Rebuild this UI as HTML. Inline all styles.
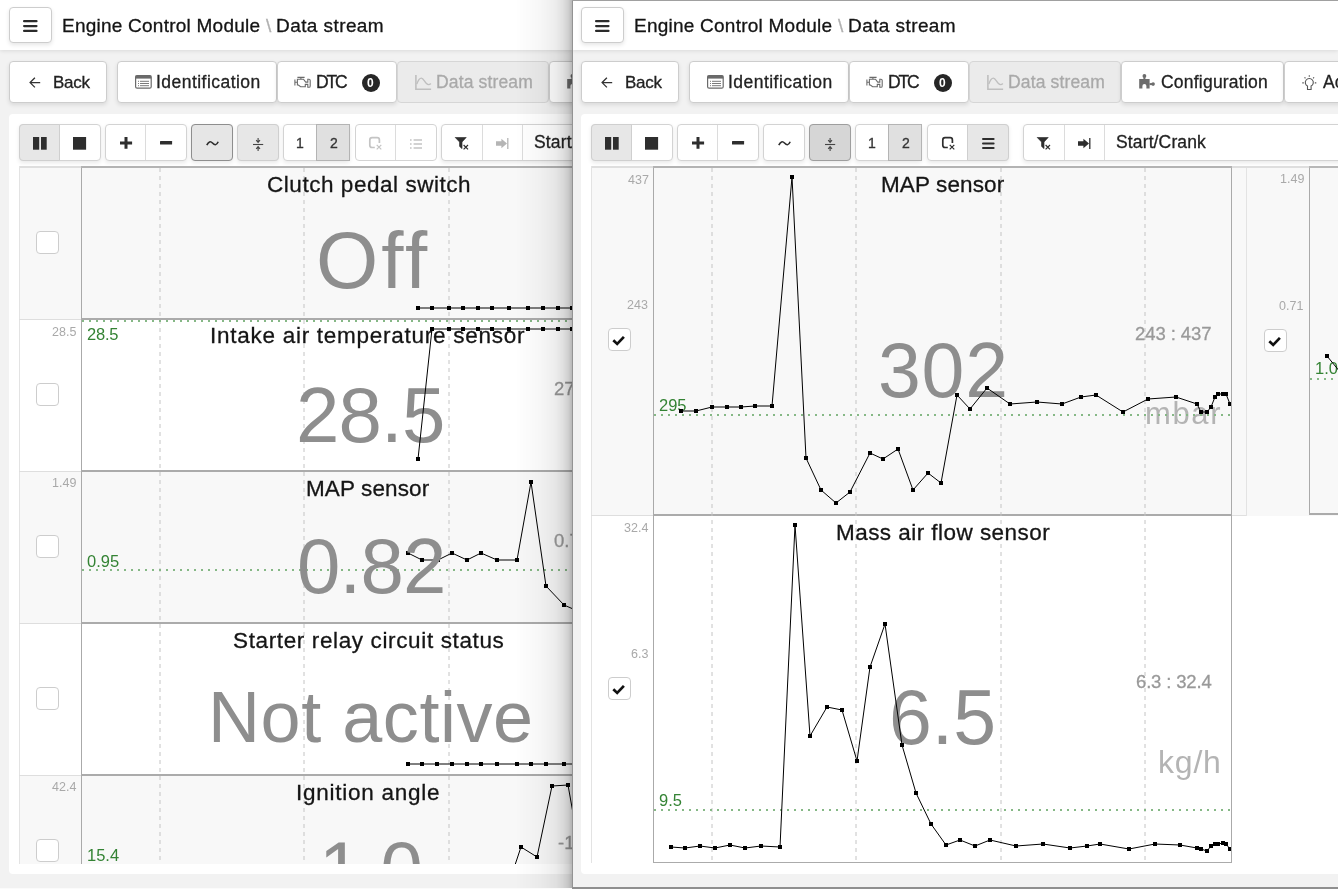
<!DOCTYPE html><html><head><meta charset="utf-8"><style>
html,body{margin:0;padding:0}
body{width:1338px;height:889px;overflow:hidden;position:relative;background:#f2f2f2;font-family:"Liberation Sans", sans-serif}
div{will-change:transform}
.t{-webkit-text-stroke:0.3px currentColor}
</style></head><body>
<div style="position:absolute;left:0px;top:0;width:572px;height:889px;overflow:hidden;background:#f2f2f2">
<div style="position:absolute;left:0;top:0;width:100%;height:50px;background:#fff;box-shadow:0 1px 4px rgba(0,0,0,.10)"></div>
<div style="position:absolute;left:9.00px;top:7.00px;width:43.00px;height:36.00px;box-sizing:border-box;border:1px solid #cdcdcd;border-radius:4px;background:#fff;box-shadow:0 2px 4px rgba(0,0,0,.10);"></div>
<svg width="15" height="13" viewBox="0 0 15 13" style="position:absolute;left:23.00px;top:19.60px;overflow:visible;"><rect x="0" y="0" width="14.6" height="2.3" rx="1.1" fill="#2b2b2b"/><rect x="0" y="4.9" width="14.6" height="2.3" rx="1.1" fill="#2b2b2b"/><rect x="0" y="9.7" width="14.6" height="2.3" rx="1.1" fill="#2b2b2b"/></svg>
<div class="t" style="position:absolute;left:61.98px;top:15.92px;font-size:19px;line-height:19px;white-space:nowrap;color:#141414;letter-spacing:0.237px;">Engine Control Module</div>
<div class="t" style="position:absolute;left:265.70px;top:15.92px;font-size:19px;line-height:19px;white-space:nowrap;color:#b0b0b0;">\</div>
<div class="t" style="position:absolute;left:276.48px;top:15.92px;font-size:19px;line-height:19px;white-space:nowrap;color:#141414;letter-spacing:0.420px;">Data stream</div>
<div style="position:absolute;left:9.00px;top:61.00px;width:98.00px;height:42.00px;box-sizing:border-box;border:1px solid #cdcdcd;border-radius:4px;background:#fff;box-shadow:0 2px 4px rgba(0,0,0,.10);"></div>
<svg width="12" height="12" viewBox="0 0 12 12" style="position:absolute;left:29.00px;top:76.60px;overflow:visible;"><path d="M11.2 5.6H1.2M5.9 0.8L1.1 5.6L5.9 10.4" stroke="#333" stroke-width="1.3" fill="none"/></svg>
<div class="t" style="position:absolute;left:53.24px;top:73.61px;font-size:17px;line-height:17px;white-space:nowrap;color:#222;letter-spacing:-0.288px;">Back</div>
<div style="position:absolute;left:117.00px;top:61.00px;width:160.00px;height:42.00px;box-sizing:border-box;border:1px solid #cdcdcd;border-radius:4px;background:#fff;box-shadow:0 2px 4px rgba(0,0,0,.10);"></div>
<svg width="17" height="14" viewBox="0 0 17 14" style="position:absolute;left:134.80px;top:74.90px;overflow:visible;"><rect x="0.6" y="0.6" width="15.6" height="12.6" rx="1.5" fill="#fff" stroke="#6a6a6a" stroke-width="1.2"/><rect x="0.6" y="0.6" width="15.6" height="3" fill="#6a6a6a"/><path d="M3 6.3h1M5 6.3h9M3 8.5h1M5 8.5h9M3 10.7h1M5 10.7h9" stroke="#7a7a7a" stroke-width="1"/></svg>
<div class="t" style="position:absolute;left:156.03px;top:73.99px;font-size:17.5px;line-height:17.5px;white-space:nowrap;color:#222;letter-spacing:0.465px;">Identification</div>
<div style="position:absolute;left:277.00px;top:61.00px;width:120.00px;height:42.00px;box-sizing:border-box;border:1px solid #cdcdcd;border-radius:4px;background:#fff;box-shadow:0 2px 4px rgba(0,0,0,.10);"></div>
<svg width="17" height="13" viewBox="0 0 17 13" style="position:absolute;left:294.00px;top:76.00px;overflow:visible;"><path d="M3.4 1.4H10.6M6.9 1.4V3.2M3.4 3.2H9.5L11.7 6.1H13.8V3.2H15Q16.2 3.2 16.2 4.6V9.9Q16.2 11.3 15 11.3H13.8V8.4H11.3V10.8H6.6L4.4 9H3.4ZM0.9 3.4V9.5M0.9 6.3H3.4" fill="none" stroke="#6a6a6a" stroke-width="1.1"/></svg>
<div class="t" style="position:absolute;left:315.60px;top:73.99px;font-size:17.5px;line-height:17.5px;white-space:nowrap;color:#222;letter-spacing:-2.131px;">DTC</div>
<div style="position:absolute;left:361.80px;top:73.80px;width:18.00px;height:18.00px;border-radius:9px;background:#262626"></div>
<div class="n" style="position:absolute;left:367.47px;top:77.44px;font-size:12px;line-height:12px;white-space:nowrap;color:#fff;font-weight:bold;">0</div>
<div style="position:absolute;left:397.00px;top:61.00px;width:152.00px;height:42.00px;box-sizing:border-box;border:1px solid #d6d6d6;border-radius:4px;background:#ebebeb;"></div>
<svg width="18" height="17" viewBox="0 0 18 17" style="position:absolute;left:414.00px;top:74.00px;overflow:visible;"><path d="M1.9 0.9V15.2H17.1" fill="none" stroke="#bfbfbf" stroke-width="1.6"/><path d="M2.8 10.1C4.5 5 5.5 4.1 7.4 4.1C10 4.1 11 10.6 14.6 10.6C15.6 10.6 16.3 10.1 16.8 9.5" fill="none" stroke="#bfbfbf" stroke-width="1.3"/></svg>
<div class="t" style="position:absolute;left:436.10px;top:73.99px;font-size:17.5px;line-height:17.5px;white-space:nowrap;color:#a9a9a9;letter-spacing:0.145px;">Data stream</div>
<div style="position:absolute;left:549.00px;top:61.00px;width:163.00px;height:42.00px;box-sizing:border-box;border:1px solid #cdcdcd;border-radius:4px;background:#fff;box-shadow:0 2px 4px rgba(0,0,0,.10);"></div>
<svg width="17" height="15" viewBox="0 0 17 15" style="position:absolute;left:566.00px;top:74.00px;overflow:visible;"><g fill="#6c6c6c"><path d="M1.2 4.9H11.6V14.6H8.4V12.1A2 2 0 0 0 4.4 12.1V14.6H1.2Z"/><circle cx="6.4" cy="1.9" r="1.9"/><rect x="5.4" y="2.5" width="2" height="2.6"/><circle cx="15.1" cy="10.1" r="1.8"/><rect x="11.5" y="9.1" width="2.5" height="2"/></g></svg>
<div class="t" style="position:absolute;left:589.02px;top:73.99px;font-size:17.5px;line-height:17.5px;white-space:nowrap;color:#222;letter-spacing:0.215px;">Configuration</div>
<div style="position:absolute;left:712.00px;top:61.00px;width:188.00px;height:42.00px;box-sizing:border-box;border:1px solid #cdcdcd;border-radius:4px;background:#fff;box-shadow:0 2px 4px rgba(0,0,0,.10);"></div>
<svg width="16" height="16" viewBox="0 0 16 16" style="position:absolute;left:730.00px;top:74.00px;overflow:visible;"><path d="M5.5 12.1A4 4 0 1 1 9.1 12.1V15.5H5.5Z" fill="none" stroke="#555" stroke-width="1.1"/><path d="M7.3 1.3V2.8M2.6 3.3L3.4 4.4M12 3.3L11.2 4.4M0.3 8.9H1.8M12.8 8.9H14.3" stroke="#555" stroke-width="1.1"/></svg>
<div class="t" style="position:absolute;left:751.41px;top:73.99px;font-size:17.5px;line-height:17.5px;white-space:nowrap;color:#222;">Actuator tests</div>
<div style="position:absolute;left:9.00px;top:114.00px;width:612.00px;height:760.00px;background:#fff;border-radius:4px"></div>
<div style="position:absolute;left:19.00px;top:124.00px;width:82.00px;height:37.00px;box-sizing:border-box;border:1px solid #d3d3d3;border-radius:4px;background:#fff;box-shadow:0 2px 4px rgba(0,0,0,.09);"></div><div style="position:absolute;left:19.00px;top:124.00px;width:41.00px;height:37.00px;box-sizing:border-box;border:1px solid #cfcfcf;border-radius:4px 0 0 4px;background:#e7e7e7"></div>
<svg width="14" height="13" viewBox="0 0 14 13" style="position:absolute;left:32.50px;top:137.10px;overflow:visible;"><rect x="0" y="0" width="6.2" height="12.7" fill="#2e2e2e"/><rect x="8" y="0" width="5.7" height="12.7" fill="#2e2e2e"/></svg>
<svg width="13" height="13" viewBox="0 0 13 13" style="position:absolute;left:73.10px;top:137.10px;overflow:visible;"><rect x="0" y="0" width="13.1" height="12.7" fill="#2e2e2e"/></svg>
<div style="position:absolute;left:105.00px;top:124.00px;width:82.00px;height:37.00px;box-sizing:border-box;border:1px solid #d3d3d3;border-radius:4px;background:#fff;box-shadow:0 2px 4px rgba(0,0,0,.09);"></div><div style="position:absolute;left:145.00px;top:125.00px;width:1.00px;height:35.00px;background:#dcdcdc"></div>
<svg width="12" height="12" viewBox="0 0 12 12" style="position:absolute;left:119.90px;top:137.10px;overflow:visible;"><path d="M6 0v11.7M0 5.9h12.1" stroke="#2e2e2e" stroke-width="3"/></svg>
<svg width="12" height="5" viewBox="0 0 12 5" style="position:absolute;left:160.30px;top:141.00px;overflow:visible;"><rect x="0" y="0" width="12.1" height="3.6" rx="0.5" fill="#2e2e2e"/></svg>
<div style="position:absolute;left:191.00px;top:124.00px;width:42.00px;height:37.00px;box-sizing:border-box;border:1px solid #d3d3d3;border-radius:4px;background:#fff;box-shadow:0 2px 4px rgba(0,0,0,.09);"></div><div style="position:absolute;left:191.00px;top:124.00px;width:42.00px;height:37.00px;box-sizing:border-box;border:1px solid #8e8e8e;border-radius:4px 4px 4px 4px;background:#e6e6e6"></div>
<svg width="13" height="7" viewBox="0 0 13 7" style="position:absolute;left:205.60px;top:140.30px;overflow:visible;"><path d="M0.8 5.2C2.5 1.5 4.5 0.8 6.5 3S10.5 5.8 12.2 1.8" fill="none" stroke="#2e2e2e" stroke-width="1.6"/></svg>
<div style="position:absolute;left:237.00px;top:124.00px;width:42.00px;height:37.00px;box-sizing:border-box;border:1px solid #d3d3d3;border-radius:4px;background:#fff;box-shadow:0 2px 4px rgba(0,0,0,.09);"></div><div style="position:absolute;left:237.00px;top:124.00px;width:42.00px;height:37.00px;box-sizing:border-box;border:1px solid #cfcfcf;border-radius:4px 4px 4px 4px;background:#e7e7e7"></div>
<svg width="11" height="13" viewBox="0 0 11 13" style="position:absolute;left:253.00px;top:137.70px;overflow:visible;"><path d="M0 6.5h10.2" stroke="#444" stroke-width="1.1"/><path d="M5.1 0v3.6M3.2 2.2l1.9 2.2l1.9-2.2M5.1 13v-3.6M3.2 10.8l1.9-2.2l1.9 2.2" fill="none" stroke="#444" stroke-width="1.1"/></svg>
<div style="position:absolute;left:283.00px;top:124.00px;width:67.00px;height:37.00px;box-sizing:border-box;border:1px solid #d3d3d3;border-radius:4px;background:#fff;box-shadow:0 2px 4px rgba(0,0,0,.09);"></div><div style="position:absolute;left:316.00px;top:124.00px;width:34.00px;height:37.00px;box-sizing:border-box;border:1px solid #b4b4b4;border-radius:0;background:#e0e0e0"></div>
<div class="t" style="position:absolute;left:295.94px;top:136.35px;font-size:14px;line-height:14px;white-space:nowrap;color:#333;">1</div>
<div class="t" style="position:absolute;left:329.62px;top:136.35px;font-size:14px;line-height:14px;white-space:nowrap;color:#333;">2</div>
<div style="position:absolute;left:355.00px;top:124.00px;width:82.00px;height:37.00px;box-sizing:border-box;border:1px solid #d3d3d3;border-radius:4px;background:#fff;"></div><div style="position:absolute;left:395.00px;top:125.00px;width:1.00px;height:35.00px;background:#dcdcdc"></div>
<svg width="13" height="13" viewBox="0 0 13 13" style="position:absolute;left:369.10px;top:137.40px;overflow:visible;"><path d="M10.4 5.9V3A2.3 2.3 0 0 0 8.1 0.7H3A2.3 2.3 0 0 0 0.8 3V8.2A2.3 2.3 0 0 0 3 10.5H5.8" fill="none" stroke="#c4c4c4" stroke-width="1.7"/><path d="M7.7 7.8l4.6 4.6M12.3 7.8L7.7 12.4" stroke="#c4c4c4" stroke-width="1.2"/></svg>
<svg width="12" height="10" viewBox="0 0 12 10" style="position:absolute;left:409.80px;top:138.70px;overflow:visible;"><path d="M0 1h1.6M0 5h1.6M0 9h1.6M3.6 1h8.4M3.6 5h8.4M3.6 9h8.4" stroke="#c4c4c4" stroke-width="1.5"/></svg>
<div style="position:absolute;left:441.00px;top:124.00px;width:572.00px;height:37.00px;box-sizing:border-box;border:1px solid #d3d3d3;border-radius:4px;background:#fff;box-shadow:0 2px 4px rgba(0,0,0,.09)"></div>
<div style="position:absolute;left:482.00px;top:125.00px;width:1.00px;height:35.00px;background:#dcdcdc"></div>
<div style="position:absolute;left:522.00px;top:125.00px;width:1.00px;height:35.00px;background:#dcdcdc"></div>
<svg width="14" height="14" viewBox="0 0 14 14" style="position:absolute;left:454.90px;top:136.90px;overflow:visible;"><path d="M0.2 0.4h11L7 5v6.6L4.6 9.4V5z" fill="#2e2e2e" stroke="#2e2e2e" stroke-width="0.7" stroke-linejoin="round"/><path d="M8.6 8l4.4 4.4M13 8L8.6 12.4" stroke="#2e2e2e" stroke-width="1.2"/></svg>
<svg width="13" height="12" viewBox="0 0 13 12" style="position:absolute;left:495.90px;top:137.90px;overflow:visible;"><path d="M0 3.3h5.4V0.7L11 5.5L5.4 10.3V7.8H0z" fill="#b5b5b5"/><path d="M11.8 0v11" stroke="#b5b5b5" stroke-width="1.3"/></svg>
<div class="t" style="position:absolute;left:534.01px;top:133.59px;font-size:17.5px;line-height:17.5px;white-space:nowrap;color:#222;letter-spacing:0.133px;">Start/Crank</div>
<div style="position:absolute;left:19px;top:166px;width:572px;height:697.7px;overflow:hidden">
<div style="position:absolute;left:0.00px;top:0.00px;width:572.00px;height:2.00px;background:#dedede"></div>
<div style="position:absolute;left:0.00px;top:2.00px;width:572.00px;height:152.00px;background:#f8f8f8"></div>
<div style="position:absolute;left:0.00px;top:154.00px;width:572.00px;height:152.00px;background:#fff"></div>
<div style="position:absolute;left:0.00px;top:306.00px;width:572.00px;height:152.00px;background:#f8f8f8"></div>
<div style="position:absolute;left:0.00px;top:458.00px;width:572.00px;height:152.00px;background:#fff"></div>
<div style="position:absolute;left:0.00px;top:610.00px;width:572.00px;height:152.00px;background:#f8f8f8"></div>
<div style="position:absolute;left:0.00px;top:0.00px;width:1.00px;height:697.70px;background:#e3e3e3"></div>
<div style="position:absolute;left:62.00px;top:0.00px;width:1.00px;height:697.70px;background:#aaa"></div>
<div style="position:absolute;left:62.00px;top:0.00px;width:691.00px;height:2.00px;background:#b3b3b3"></div>
<div style="position:absolute;left:0.00px;top:153.00px;width:62.00px;height:1.00px;background:#dedede"></div>
<div style="position:absolute;left:62.00px;top:152.00px;width:691.00px;height:2.00px;background:#ababab"></div>
<div style="position:absolute;left:0.00px;top:305.00px;width:62.00px;height:1.00px;background:#dedede"></div>
<div style="position:absolute;left:62.00px;top:304.00px;width:691.00px;height:2.00px;background:#ababab"></div>
<div style="position:absolute;left:0.00px;top:457.00px;width:62.00px;height:1.00px;background:#dedede"></div>
<div style="position:absolute;left:62.00px;top:456.00px;width:691.00px;height:2.00px;background:#ababab"></div>
<div style="position:absolute;left:0.00px;top:609.00px;width:62.00px;height:1.00px;background:#dedede"></div>
<div style="position:absolute;left:62.00px;top:608.00px;width:691.00px;height:2.00px;background:#ababab"></div>
<div style="position:absolute;left:0.00px;top:761.00px;width:62.00px;height:1.00px;background:#dedede"></div>
<div style="position:absolute;left:62.00px;top:760.00px;width:691.00px;height:2.00px;background:#ababab"></div>
<svg width="572" height="697.7" style="position:absolute;left:0;top:0"><line x1="141" y1="2" x2="141" y2="697.7" stroke="#c4c4c4" stroke-width="1" stroke-dasharray="4,4"/><line x1="285" y1="2" x2="285" y2="697.7" stroke="#c4c4c4" stroke-width="1" stroke-dasharray="4,4"/><line x1="430" y1="2" x2="430" y2="697.7" stroke="#c4c4c4" stroke-width="1" stroke-dasharray="4,4"/><line x1="575" y1="2" x2="575" y2="697.7" stroke="#c4c4c4" stroke-width="1" stroke-dasharray="4,4"/></svg>
<div style="position:absolute;left:-19px;top:-166px"><div style="position:absolute;left:36.30px;top:230.50px;width:22.50px;height:23.00px;box-sizing:border-box;border:1px solid #cdcdcd;border-radius:4px;background:#fff"></div><div class="t" style="position:absolute;left:266.88px;top:173.95px;font-size:22.5px;line-height:22.5px;white-space:nowrap;color:#151515;letter-spacing:0.542px;">Clutch pedal switch</div><div class="n" style="position:absolute;left:316.30px;top:220.58px;font-size:80px;line-height:80px;white-space:nowrap;color:#8e8e8e;letter-spacing:3.050px;">Off</div><div style="position:absolute;left:36.30px;top:382.50px;width:22.50px;height:23.00px;box-sizing:border-box;border:1px solid #cdcdcd;border-radius:4px;background:#fff"></div><div class="n" style="position:absolute;left:86.58px;top:326.33px;font-size:16.5px;line-height:16.5px;white-space:nowrap;color:#348334;letter-spacing:-0.202px;">28.5</div><div class="t" style="position:absolute;left:210.47px;top:325.45px;font-size:22.5px;line-height:22.5px;white-space:nowrap;color:#151515;letter-spacing:0.733px;">Intake air temperature sensor</div><div class="n" style="position:absolute;left:295.80px;top:375.67px;font-size:78px;line-height:78px;white-space:nowrap;color:#8e8e8e;letter-spacing:-0.830px;">28.5</div><div class="t" style="position:absolute;left:553.78px;top:379.64px;font-size:18.5px;line-height:18.5px;white-space:nowrap;color:#999;">27.3 : 28.5</div><div style="position:absolute;left:36.30px;top:534.50px;width:22.50px;height:23.00px;box-sizing:border-box;border:1px solid #cdcdcd;border-radius:4px;background:#fff"></div><div class="n" style="position:absolute;left:86.74px;top:552.53px;font-size:16.5px;line-height:16.5px;white-space:nowrap;color:#348334;">0.95</div><div class="t" style="position:absolute;left:306.20px;top:478.25px;font-size:22.5px;line-height:22.5px;white-space:nowrap;color:#151515;letter-spacing:0.119px;">MAP sensor</div><div class="t" style="position:absolute;left:553.96px;top:531.74px;font-size:18.5px;line-height:18.5px;white-space:nowrap;color:#999;">0.71 : 1.49</div><div style="position:absolute;left:36.30px;top:686.50px;width:22.50px;height:23.00px;box-sizing:border-box;border:1px solid #cdcdcd;border-radius:4px;background:#fff"></div><div class="t" style="position:absolute;left:232.99px;top:630.15px;font-size:22.5px;line-height:22.5px;white-space:nowrap;color:#151515;letter-spacing:0.630px;">Starter relay circuit status</div><div class="n" style="position:absolute;left:208.14px;top:681.05px;font-size:72px;line-height:72px;white-space:nowrap;color:#8e8e8e;letter-spacing:0.551px;">Not active</div><div style="position:absolute;left:36.30px;top:838.50px;width:22.50px;height:23.00px;box-sizing:border-box;border:1px solid #cdcdcd;border-radius:4px;background:#fff"></div><div class="t" style="position:absolute;left:296.23px;top:781.65px;font-size:22.5px;line-height:22.5px;white-space:nowrap;color:#151515;letter-spacing:0.743px;">Ignition angle</div><div class="n" style="position:absolute;left:86.56px;top:846.83px;font-size:16.5px;line-height:16.5px;white-space:nowrap;color:#348334;">15.4</div><div class="n" style="position:absolute;left:319.30px;top:830.67px;font-size:76px;line-height:76px;white-space:nowrap;color:#8e8e8e;letter-spacing:-0.950px;">1.0</div><div class="t" style="position:absolute;left:558.37px;top:834.44px;font-size:18.5px;line-height:18.5px;white-space:nowrap;color:#999;">-11.3 : 42.4</div><div class="n" style="position:absolute;left:51.79px;top:325.62px;font-size:12.5px;line-height:12.5px;white-space:nowrap;color:#a9a9a9;">28.5</div><div class="n" style="position:absolute;left:51.85px;top:477.42px;font-size:12.5px;line-height:12.5px;white-space:nowrap;color:#a9a9a9;">1.49</div><div class="n" style="position:absolute;left:51.66px;top:781.42px;font-size:12.5px;line-height:12.5px;white-space:nowrap;color:#a9a9a9;">42.4</div></div>
<svg width="600" height="720" style="position:absolute;left:0;top:0;overflow:visible"><g transform="translate(-19,-166)"><polyline points="418,308 432,308 449,308 463,308 478,308 492,308 509,308 528,308 543,308 558,308 572,308 586,308" fill="none" stroke="#000" stroke-width="1"/><rect x="416" y="306" width="4" height="4" fill="#000" shape-rendering="crispEdges"/><rect x="430" y="306" width="4" height="4" fill="#000" shape-rendering="crispEdges"/><rect x="447" y="306" width="4" height="4" fill="#000" shape-rendering="crispEdges"/><rect x="461" y="306" width="4" height="4" fill="#000" shape-rendering="crispEdges"/><rect x="476" y="306" width="4" height="4" fill="#000" shape-rendering="crispEdges"/><rect x="490" y="306" width="4" height="4" fill="#000" shape-rendering="crispEdges"/><rect x="507" y="306" width="4" height="4" fill="#000" shape-rendering="crispEdges"/><rect x="526" y="306" width="4" height="4" fill="#000" shape-rendering="crispEdges"/><rect x="541" y="306" width="4" height="4" fill="#000" shape-rendering="crispEdges"/><rect x="556" y="306" width="4" height="4" fill="#000" shape-rendering="crispEdges"/><rect x="570" y="306" width="4" height="4" fill="#000" shape-rendering="crispEdges"/><rect x="584" y="306" width="4" height="4" fill="#000" shape-rendering="crispEdges"/><line x1="82.0" y1="321.0" x2="700.0" y2="321.0" stroke="#86b886" stroke-width="2" stroke-dasharray="2,5" shape-rendering="crispEdges"/><polyline points="418,459 432,329 449,329 463,329 478,329 492,329 509,329 528,329 543,329 558,329 572,329 586,329" fill="none" stroke="#000" stroke-width="1"/><rect x="416" y="457" width="4" height="4" fill="#000" shape-rendering="crispEdges"/><rect x="430" y="327" width="4" height="4" fill="#000" shape-rendering="crispEdges"/><rect x="447" y="327" width="4" height="4" fill="#000" shape-rendering="crispEdges"/><rect x="461" y="327" width="4" height="4" fill="#000" shape-rendering="crispEdges"/><rect x="476" y="327" width="4" height="4" fill="#000" shape-rendering="crispEdges"/><rect x="490" y="327" width="4" height="4" fill="#000" shape-rendering="crispEdges"/><rect x="507" y="327" width="4" height="4" fill="#000" shape-rendering="crispEdges"/><rect x="526" y="327" width="4" height="4" fill="#000" shape-rendering="crispEdges"/><rect x="541" y="327" width="4" height="4" fill="#000" shape-rendering="crispEdges"/><rect x="556" y="327" width="4" height="4" fill="#000" shape-rendering="crispEdges"/><rect x="570" y="327" width="4" height="4" fill="#000" shape-rendering="crispEdges"/><rect x="584" y="327" width="4" height="4" fill="#000" shape-rendering="crispEdges"/><line x1="82.0" y1="570.0" x2="700.0" y2="570.0" stroke="#86b886" stroke-width="2" stroke-dasharray="2,5" shape-rendering="crispEdges"/><polyline points="408,553 422,560 438,560 452,553 467,560 481,553 497,560 517,560 531,482 546,586 564,605 580,612" fill="none" stroke="#000" stroke-width="1"/><rect x="406" y="551" width="4" height="4" fill="#000" shape-rendering="crispEdges"/><rect x="420" y="558" width="4" height="4" fill="#000" shape-rendering="crispEdges"/><rect x="436" y="558" width="4" height="4" fill="#000" shape-rendering="crispEdges"/><rect x="450" y="551" width="4" height="4" fill="#000" shape-rendering="crispEdges"/><rect x="465" y="558" width="4" height="4" fill="#000" shape-rendering="crispEdges"/><rect x="479" y="551" width="4" height="4" fill="#000" shape-rendering="crispEdges"/><rect x="495" y="558" width="4" height="4" fill="#000" shape-rendering="crispEdges"/><rect x="515" y="558" width="4" height="4" fill="#000" shape-rendering="crispEdges"/><rect x="529" y="480" width="4" height="4" fill="#000" shape-rendering="crispEdges"/><rect x="544" y="584" width="4" height="4" fill="#000" shape-rendering="crispEdges"/><rect x="562" y="603" width="4" height="4" fill="#000" shape-rendering="crispEdges"/><rect x="578" y="610" width="4" height="4" fill="#000" shape-rendering="crispEdges"/><polyline points="408,764 422,764 437,764 452,764 467,764 481,764 497,764 517,764 531,764 546,764 564,764 578,764" fill="none" stroke="#000" stroke-width="1"/><rect x="406" y="762" width="4" height="4" fill="#000" shape-rendering="crispEdges"/><rect x="420" y="762" width="4" height="4" fill="#000" shape-rendering="crispEdges"/><rect x="435" y="762" width="4" height="4" fill="#000" shape-rendering="crispEdges"/><rect x="450" y="762" width="4" height="4" fill="#000" shape-rendering="crispEdges"/><rect x="465" y="762" width="4" height="4" fill="#000" shape-rendering="crispEdges"/><rect x="479" y="762" width="4" height="4" fill="#000" shape-rendering="crispEdges"/><rect x="495" y="762" width="4" height="4" fill="#000" shape-rendering="crispEdges"/><rect x="515" y="762" width="4" height="4" fill="#000" shape-rendering="crispEdges"/><rect x="529" y="762" width="4" height="4" fill="#000" shape-rendering="crispEdges"/><rect x="544" y="762" width="4" height="4" fill="#000" shape-rendering="crispEdges"/><rect x="562" y="762" width="4" height="4" fill="#000" shape-rendering="crispEdges"/><rect x="576" y="762" width="4" height="4" fill="#000" shape-rendering="crispEdges"/><polyline points="510,880 521,847 537,857 552,786 568,785 576,830" fill="none" stroke="#000" stroke-width="1"/><rect x="508" y="878" width="4" height="4" fill="#000" shape-rendering="crispEdges"/><rect x="519" y="845" width="4" height="4" fill="#000" shape-rendering="crispEdges"/><rect x="535" y="855" width="4" height="4" fill="#000" shape-rendering="crispEdges"/><rect x="550" y="784" width="4" height="4" fill="#000" shape-rendering="crispEdges"/><rect x="566" y="783" width="4" height="4" fill="#000" shape-rendering="crispEdges"/><rect x="574" y="828" width="4" height="4" fill="#000" shape-rendering="crispEdges"/></g></svg>
<div style="position:absolute;left:-19px;top:-166px"><div class="n" style="position:absolute;left:296.58px;top:527.27px;font-size:78px;line-height:78px;white-space:nowrap;color:#8e8e8e;letter-spacing:-0.830px;">0.82</div></div>
</div>
</div>
<div style="position:absolute;left:516.00px;top:0.00px;width:56.00px;height:889.00px;background:linear-gradient(to right,rgba(0,0,0,0) 0px,rgba(0,0,0,.03) 24px,rgba(0,0,0,.05) 32px,rgba(0,0,0,.07) 39px,rgba(0,0,0,.12) 47px,rgba(0,0,0,.18) 52px,rgba(0,0,0,.28) 56px)"></div>
<div style="position:absolute;left:572px;top:0;width:766px;height:889px;overflow:hidden;background:#f2f2f2">
<div style="position:absolute;left:0;top:0;width:100%;height:50px;background:#fff;box-shadow:0 1px 4px rgba(0,0,0,.10)"></div>
<div style="position:absolute;left:9.00px;top:7.00px;width:43.00px;height:36.00px;box-sizing:border-box;border:1px solid #cdcdcd;border-radius:4px;background:#fff;box-shadow:0 2px 4px rgba(0,0,0,.10);"></div>
<svg width="15" height="13" viewBox="0 0 15 13" style="position:absolute;left:23.00px;top:19.60px;overflow:visible;"><rect x="0" y="0" width="14.6" height="2.3" rx="1.1" fill="#2b2b2b"/><rect x="0" y="4.9" width="14.6" height="2.3" rx="1.1" fill="#2b2b2b"/><rect x="0" y="9.7" width="14.6" height="2.3" rx="1.1" fill="#2b2b2b"/></svg>
<div class="t" style="position:absolute;left:61.98px;top:15.92px;font-size:19px;line-height:19px;white-space:nowrap;color:#141414;letter-spacing:0.237px;">Engine Control Module</div>
<div class="t" style="position:absolute;left:265.70px;top:15.92px;font-size:19px;line-height:19px;white-space:nowrap;color:#b0b0b0;">\</div>
<div class="t" style="position:absolute;left:276.48px;top:15.92px;font-size:19px;line-height:19px;white-space:nowrap;color:#141414;letter-spacing:0.420px;">Data stream</div>
<div style="position:absolute;left:9.00px;top:61.00px;width:98.00px;height:42.00px;box-sizing:border-box;border:1px solid #cdcdcd;border-radius:4px;background:#fff;box-shadow:0 2px 4px rgba(0,0,0,.10);"></div>
<svg width="12" height="12" viewBox="0 0 12 12" style="position:absolute;left:29.00px;top:76.60px;overflow:visible;"><path d="M11.2 5.6H1.2M5.9 0.8L1.1 5.6L5.9 10.4" stroke="#333" stroke-width="1.3" fill="none"/></svg>
<div class="t" style="position:absolute;left:53.24px;top:73.61px;font-size:17px;line-height:17px;white-space:nowrap;color:#222;letter-spacing:-0.288px;">Back</div>
<div style="position:absolute;left:117.00px;top:61.00px;width:160.00px;height:42.00px;box-sizing:border-box;border:1px solid #cdcdcd;border-radius:4px;background:#fff;box-shadow:0 2px 4px rgba(0,0,0,.10);"></div>
<svg width="17" height="14" viewBox="0 0 17 14" style="position:absolute;left:134.80px;top:74.90px;overflow:visible;"><rect x="0.6" y="0.6" width="15.6" height="12.6" rx="1.5" fill="#fff" stroke="#6a6a6a" stroke-width="1.2"/><rect x="0.6" y="0.6" width="15.6" height="3" fill="#6a6a6a"/><path d="M3 6.3h1M5 6.3h9M3 8.5h1M5 8.5h9M3 10.7h1M5 10.7h9" stroke="#7a7a7a" stroke-width="1"/></svg>
<div class="t" style="position:absolute;left:156.03px;top:73.99px;font-size:17.5px;line-height:17.5px;white-space:nowrap;color:#222;letter-spacing:0.465px;">Identification</div>
<div style="position:absolute;left:277.00px;top:61.00px;width:120.00px;height:42.00px;box-sizing:border-box;border:1px solid #cdcdcd;border-radius:4px;background:#fff;box-shadow:0 2px 4px rgba(0,0,0,.10);"></div>
<svg width="17" height="13" viewBox="0 0 17 13" style="position:absolute;left:294.00px;top:76.00px;overflow:visible;"><path d="M3.4 1.4H10.6M6.9 1.4V3.2M3.4 3.2H9.5L11.7 6.1H13.8V3.2H15Q16.2 3.2 16.2 4.6V9.9Q16.2 11.3 15 11.3H13.8V8.4H11.3V10.8H6.6L4.4 9H3.4ZM0.9 3.4V9.5M0.9 6.3H3.4" fill="none" stroke="#6a6a6a" stroke-width="1.1"/></svg>
<div class="t" style="position:absolute;left:315.60px;top:73.99px;font-size:17.5px;line-height:17.5px;white-space:nowrap;color:#222;letter-spacing:-2.131px;">DTC</div>
<div style="position:absolute;left:361.80px;top:73.80px;width:18.00px;height:18.00px;border-radius:9px;background:#262626"></div>
<div class="n" style="position:absolute;left:367.47px;top:77.44px;font-size:12px;line-height:12px;white-space:nowrap;color:#fff;font-weight:bold;">0</div>
<div style="position:absolute;left:397.00px;top:61.00px;width:152.00px;height:42.00px;box-sizing:border-box;border:1px solid #d6d6d6;border-radius:4px;background:#ebebeb;"></div>
<svg width="18" height="17" viewBox="0 0 18 17" style="position:absolute;left:414.00px;top:74.00px;overflow:visible;"><path d="M1.9 0.9V15.2H17.1" fill="none" stroke="#bfbfbf" stroke-width="1.6"/><path d="M2.8 10.1C4.5 5 5.5 4.1 7.4 4.1C10 4.1 11 10.6 14.6 10.6C15.6 10.6 16.3 10.1 16.8 9.5" fill="none" stroke="#bfbfbf" stroke-width="1.3"/></svg>
<div class="t" style="position:absolute;left:436.10px;top:73.99px;font-size:17.5px;line-height:17.5px;white-space:nowrap;color:#a9a9a9;letter-spacing:0.145px;">Data stream</div>
<div style="position:absolute;left:549.00px;top:61.00px;width:163.00px;height:42.00px;box-sizing:border-box;border:1px solid #cdcdcd;border-radius:4px;background:#fff;box-shadow:0 2px 4px rgba(0,0,0,.10);"></div>
<svg width="17" height="15" viewBox="0 0 17 15" style="position:absolute;left:566.00px;top:74.00px;overflow:visible;"><g fill="#6c6c6c"><path d="M1.2 4.9H11.6V14.6H8.4V12.1A2 2 0 0 0 4.4 12.1V14.6H1.2Z"/><circle cx="6.4" cy="1.9" r="1.9"/><rect x="5.4" y="2.5" width="2" height="2.6"/><circle cx="15.1" cy="10.1" r="1.8"/><rect x="11.5" y="9.1" width="2.5" height="2"/></g></svg>
<div class="t" style="position:absolute;left:589.02px;top:73.99px;font-size:17.5px;line-height:17.5px;white-space:nowrap;color:#222;letter-spacing:0.215px;">Configuration</div>
<div style="position:absolute;left:712.00px;top:61.00px;width:188.00px;height:42.00px;box-sizing:border-box;border:1px solid #cdcdcd;border-radius:4px;background:#fff;box-shadow:0 2px 4px rgba(0,0,0,.10);"></div>
<svg width="16" height="16" viewBox="0 0 16 16" style="position:absolute;left:730.00px;top:74.00px;overflow:visible;"><path d="M5.5 12.1A4 4 0 1 1 9.1 12.1V15.5H5.5Z" fill="none" stroke="#555" stroke-width="1.1"/><path d="M7.3 1.3V2.8M2.6 3.3L3.4 4.4M12 3.3L11.2 4.4M0.3 8.9H1.8M12.8 8.9H14.3" stroke="#555" stroke-width="1.1"/></svg>
<div class="t" style="position:absolute;left:751.41px;top:73.99px;font-size:17.5px;line-height:17.5px;white-space:nowrap;color:#222;">Actuator tests</div>
<div style="position:absolute;left:9.00px;top:114.00px;width:806.00px;height:760.00px;background:#fff;border-radius:4px"></div>
<div style="position:absolute;left:19.00px;top:124.00px;width:82.00px;height:37.00px;box-sizing:border-box;border:1px solid #d3d3d3;border-radius:4px;background:#fff;box-shadow:0 2px 4px rgba(0,0,0,.09);"></div><div style="position:absolute;left:19.00px;top:124.00px;width:41.00px;height:37.00px;box-sizing:border-box;border:1px solid #cfcfcf;border-radius:4px 0 0 4px;background:#e7e7e7"></div>
<svg width="14" height="13" viewBox="0 0 14 13" style="position:absolute;left:32.50px;top:137.10px;overflow:visible;"><rect x="0" y="0" width="6.2" height="12.7" fill="#2e2e2e"/><rect x="8" y="0" width="5.7" height="12.7" fill="#2e2e2e"/></svg>
<svg width="13" height="13" viewBox="0 0 13 13" style="position:absolute;left:73.10px;top:137.10px;overflow:visible;"><rect x="0" y="0" width="13.1" height="12.7" fill="#2e2e2e"/></svg>
<div style="position:absolute;left:105.00px;top:124.00px;width:82.00px;height:37.00px;box-sizing:border-box;border:1px solid #d3d3d3;border-radius:4px;background:#fff;box-shadow:0 2px 4px rgba(0,0,0,.09);"></div><div style="position:absolute;left:145.00px;top:125.00px;width:1.00px;height:35.00px;background:#dcdcdc"></div>
<svg width="12" height="12" viewBox="0 0 12 12" style="position:absolute;left:119.90px;top:137.10px;overflow:visible;"><path d="M6 0v11.7M0 5.9h12.1" stroke="#2e2e2e" stroke-width="3"/></svg>
<svg width="12" height="5" viewBox="0 0 12 5" style="position:absolute;left:160.30px;top:141.00px;overflow:visible;"><rect x="0" y="0" width="12.1" height="3.6" rx="0.5" fill="#2e2e2e"/></svg>
<div style="position:absolute;left:191.00px;top:124.00px;width:42.00px;height:37.00px;box-sizing:border-box;border:1px solid #d3d3d3;border-radius:4px;background:#fff;box-shadow:0 2px 4px rgba(0,0,0,.09);"></div>
<svg width="13" height="7" viewBox="0 0 13 7" style="position:absolute;left:205.60px;top:140.30px;overflow:visible;"><path d="M0.8 5.2C2.5 1.5 4.5 0.8 6.5 3S10.5 5.8 12.2 1.8" fill="none" stroke="#2e2e2e" stroke-width="1.6"/></svg>
<div style="position:absolute;left:237.00px;top:124.00px;width:42.00px;height:37.00px;box-sizing:border-box;border:1px solid #d3d3d3;border-radius:4px;background:#fff;box-shadow:0 2px 4px rgba(0,0,0,.09);"></div><div style="position:absolute;left:237.00px;top:124.00px;width:42.00px;height:37.00px;box-sizing:border-box;border:1px solid #9e9e9e;border-radius:4px 4px 4px 4px;background:#d6d6d6"></div>
<svg width="11" height="13" viewBox="0 0 11 13" style="position:absolute;left:253.00px;top:137.70px;overflow:visible;"><path d="M0 6.5h10.2" stroke="#444" stroke-width="1.1"/><path d="M5.1 0v3.6M3.2 2.2l1.9 2.2l1.9-2.2M5.1 13v-3.6M3.2 10.8l1.9-2.2l1.9 2.2" fill="none" stroke="#444" stroke-width="1.1"/></svg>
<div style="position:absolute;left:283.00px;top:124.00px;width:67.00px;height:37.00px;box-sizing:border-box;border:1px solid #d3d3d3;border-radius:4px;background:#fff;box-shadow:0 2px 4px rgba(0,0,0,.09);"></div><div style="position:absolute;left:316.00px;top:124.00px;width:34.00px;height:37.00px;box-sizing:border-box;border:1px solid #b4b4b4;border-radius:0;background:#e0e0e0"></div>
<div class="t" style="position:absolute;left:295.94px;top:136.35px;font-size:14px;line-height:14px;white-space:nowrap;color:#333;">1</div>
<div class="t" style="position:absolute;left:329.62px;top:136.35px;font-size:14px;line-height:14px;white-space:nowrap;color:#333;">2</div>
<div style="position:absolute;left:355.00px;top:124.00px;width:82.00px;height:37.00px;box-sizing:border-box;border:1px solid #d3d3d3;border-radius:4px;background:#fff;box-shadow:0 2px 4px rgba(0,0,0,.09);"></div><div style="position:absolute;left:395.00px;top:124.00px;width:42.00px;height:37.00px;box-sizing:border-box;border:1px solid #cfcfcf;border-radius:0 4px 4px 0;background:#e7e7e7"></div>
<svg width="13" height="13" viewBox="0 0 13 13" style="position:absolute;left:369.50px;top:137.30px;overflow:visible;"><path d="M10.4 5.9V3A2.3 2.3 0 0 0 8.1 0.7H3A2.3 2.3 0 0 0 0.8 3V8.2A2.3 2.3 0 0 0 3 10.5H5.8" fill="none" stroke="#2e2e2e" stroke-width="1.7"/><path d="M7.7 7.8l4.6 4.6M12.3 7.8L7.7 12.4" stroke="#2e2e2e" stroke-width="1.2"/></svg>
<svg width="13" height="12" viewBox="0 0 13 12" style="position:absolute;left:409.50px;top:138.10px;overflow:visible;"><rect x="0" y="0" width="12.6" height="2" rx="1" fill="#2e2e2e"/><rect x="0" y="4.5" width="12.6" height="2" rx="1" fill="#2e2e2e"/><rect x="0" y="8.9" width="12.6" height="2" rx="1" fill="#2e2e2e"/></svg>
<div style="position:absolute;left:451.00px;top:124.00px;width:766.00px;height:37.00px;box-sizing:border-box;border:1px solid #d3d3d3;border-radius:4px;background:#fff;box-shadow:0 2px 4px rgba(0,0,0,.09)"></div>
<div style="position:absolute;left:492.00px;top:125.00px;width:1.00px;height:35.00px;background:#dcdcdc"></div>
<div style="position:absolute;left:532.00px;top:125.00px;width:1.00px;height:35.00px;background:#dcdcdc"></div>
<svg width="14" height="14" viewBox="0 0 14 14" style="position:absolute;left:464.90px;top:136.90px;overflow:visible;"><path d="M0.2 0.4h11L7 5v6.6L4.6 9.4V5z" fill="#2e2e2e" stroke="#2e2e2e" stroke-width="0.7" stroke-linejoin="round"/><path d="M8.6 8l4.4 4.4M13 8L8.6 12.4" stroke="#2e2e2e" stroke-width="1.2"/></svg>
<svg width="13" height="12" viewBox="0 0 13 12" style="position:absolute;left:505.90px;top:137.90px;overflow:visible;"><path d="M0 3.3h5.4V0.7L11 5.5L5.4 10.3V7.8H0z" fill="#2e2e2e"/><path d="M11.8 0v11" stroke="#2e2e2e" stroke-width="1.3"/></svg>
<div class="t" style="position:absolute;left:544.01px;top:133.59px;font-size:17.5px;line-height:17.5px;white-space:nowrap;color:#222;letter-spacing:0.133px;">Start/Crank</div>
<div style="position:absolute;left:19px;top:166px;width:766px;height:697.0px;overflow:hidden">
<div style="position:absolute;left:0.00px;top:0.00px;width:766.00px;height:2.00px;background:#dedede"></div>
<div style="position:absolute;left:0.00px;top:2.00px;width:766.00px;height:348.00px;background:#f8f8f8"></div>
<div style="position:absolute;left:0.00px;top:350.00px;width:766.00px;height:347.00px;background:#fff"></div>
<div style="position:absolute;left:640.50px;top:2.00px;width:766.00px;height:348.00px;background:#f8f8f8"></div>
<div style="position:absolute;left:655.00px;top:2.00px;width:1.00px;height:348.00px;background:#e3e3e3"></div>
<div style="position:absolute;left:641.00px;top:349.00px;width:14.00px;height:1.00px;background:#e0e0e0"></div>
<div style="position:absolute;left:718.20px;top:0.00px;width:1.20px;height:349.00px;background:#aaa"></div>
<div style="position:absolute;left:718.20px;top:0.00px;width:766.00px;height:2.00px;background:#b8b8b8"></div>
<div style="position:absolute;left:718.20px;top:347.00px;width:766.00px;height:2.00px;background:#ababab"></div>
<div style="position:absolute;left:640.50px;top:350.00px;width:766.00px;height:400.00px;background:#fff"></div>
<div style="position:absolute;left:0.00px;top:0.00px;width:1.00px;height:697.00px;background:#e3e3e3"></div>
<div style="position:absolute;left:62.00px;top:0.00px;width:1.00px;height:697.00px;background:#aaa"></div>
<div style="position:absolute;left:640.00px;top:0.00px;width:1.00px;height:697.00px;background:#aaa"></div>
<div style="position:absolute;left:62.00px;top:0.00px;width:578.50px;height:2.00px;background:#b3b3b3"></div>
<div style="position:absolute;left:0.00px;top:349.00px;width:62.00px;height:1.00px;background:#dedede"></div>
<div style="position:absolute;left:62.00px;top:348.00px;width:578.50px;height:2.00px;background:#ababab"></div>
<div style="position:absolute;left:62.00px;top:696.00px;width:578.50px;height:1.00px;background:#ababab"></div>
<svg width="766" height="697" style="position:absolute;left:0;top:0"><line x1="121" y1="2" x2="121" y2="697" stroke="#c4c4c4" stroke-width="1" stroke-dasharray="4,4"/><line x1="265" y1="2" x2="265" y2="697" stroke="#c4c4c4" stroke-width="1" stroke-dasharray="4,4"/><line x1="410" y1="2" x2="410" y2="697" stroke="#c4c4c4" stroke-width="1" stroke-dasharray="4,4"/><line x1="554" y1="2" x2="554" y2="697" stroke="#c4c4c4" stroke-width="1" stroke-dasharray="4,4"/></svg>
<div style="position:absolute;left:-591px;top:-166px"><div class="n" style="position:absolute;left:627.51px;top:173.72px;font-size:12.5px;line-height:12.5px;white-space:nowrap;color:#a9a9a9;">437</div><div class="n" style="position:absolute;left:627.45px;top:299.22px;font-size:12.5px;line-height:12.5px;white-space:nowrap;color:#a9a9a9;">243</div><div style="position:absolute;left:608.30px;top:328.10px;width:22.50px;height:23.40px;box-sizing:border-box;border:1px solid #cdcdcd;border-radius:4px;background:#fff"></div><svg width="22" height="23" viewBox="0 0 22 23" style="position:absolute;left:608.30px;top:328.10px;overflow:visible;"><path d="M5.3 12.2L9.2 15.9L15.9 8.9" fill="none" stroke="#111" stroke-width="2.7" stroke-linejoin="miter"/></svg><div class="n" style="position:absolute;left:658.97px;top:397.03px;font-size:16.5px;line-height:16.5px;white-space:nowrap;color:#348334;">295</div><div class="t" style="position:absolute;left:881.20px;top:173.75px;font-size:22.5px;line-height:22.5px;white-space:nowrap;color:#151515;letter-spacing:0.119px;">MAP sensor</div><div class="n" style="position:absolute;left:878.12px;top:332.22px;font-size:77px;line-height:77px;white-space:nowrap;color:#8e8e8e;letter-spacing:0.762px;">302</div><div class="t" style="position:absolute;left:1135.08px;top:325.34px;font-size:18.5px;line-height:18.5px;white-space:nowrap;color:#999;letter-spacing:-0.074px;">243 : 437</div><div class="n" style="position:absolute;left:1144.68px;top:398.36px;font-size:31px;line-height:31px;white-space:nowrap;color:#b4b4b4;letter-spacing:1.652px;">mbar</div><div class="n" style="position:absolute;left:1279.75px;top:173.32px;font-size:12.5px;line-height:12.5px;white-space:nowrap;color:#a9a9a9;">1.49</div><div class="n" style="position:absolute;left:1278.91px;top:299.82px;font-size:12.5px;line-height:12.5px;white-space:nowrap;color:#a9a9a9;">0.71</div><div style="position:absolute;left:1263.80px;top:328.60px;width:22.50px;height:23.40px;box-sizing:border-box;border:1px solid #cdcdcd;border-radius:4px;background:#fff"></div><svg width="22" height="23" viewBox="0 0 22 23" style="position:absolute;left:1263.80px;top:328.60px;overflow:visible;"><path d="M5.3 12.2L9.2 15.9L15.9 8.9" fill="none" stroke="#111" stroke-width="2.7" stroke-linejoin="miter"/></svg><div class="n" style="position:absolute;left:1315.36px;top:360.43px;font-size:16.5px;line-height:16.5px;white-space:nowrap;color:#348334;">1.0</div><div class="n" style="position:absolute;left:623.96px;top:522.22px;font-size:12.5px;line-height:12.5px;white-space:nowrap;color:#a9a9a9;">32.4</div><div class="n" style="position:absolute;left:631.09px;top:647.82px;font-size:12.5px;line-height:12.5px;white-space:nowrap;color:#a9a9a9;">6.3</div><div style="position:absolute;left:608.30px;top:677.10px;width:22.50px;height:23.40px;box-sizing:border-box;border:1px solid #cdcdcd;border-radius:4px;background:#fff"></div><svg width="22" height="23" viewBox="0 0 22 23" style="position:absolute;left:608.30px;top:677.10px;overflow:visible;"><path d="M5.3 12.2L9.2 15.9L15.9 8.9" fill="none" stroke="#111" stroke-width="2.7" stroke-linejoin="miter"/></svg><div class="n" style="position:absolute;left:658.96px;top:792.03px;font-size:16.5px;line-height:16.5px;white-space:nowrap;color:#348334;">9.5</div><div class="t" style="position:absolute;left:835.95px;top:521.95px;font-size:22.5px;line-height:22.5px;white-space:nowrap;color:#151515;letter-spacing:0.456px;">Mass air flow sensor</div><div class="n" style="position:absolute;left:888.95px;top:678.52px;font-size:77px;line-height:77px;white-space:nowrap;color:#8e8e8e;letter-spacing:0.000px;">6.5</div><div class="t" style="position:absolute;left:1135.98px;top:673.34px;font-size:18.5px;line-height:18.5px;white-space:nowrap;color:#999;letter-spacing:-0.152px;">6.3 : 32.4</div><div class="n" style="position:absolute;left:1157.62px;top:746.11px;font-size:32px;line-height:32px;white-space:nowrap;color:#b4b4b4;letter-spacing:0.793px;">kg/h</div></div>
<svg width="800" height="720" style="position:absolute;left:0;top:0;overflow:visible"><g transform="translate(-591,-166)"><line x1="654.0" y1="415.0" x2="1231.0" y2="415.0" stroke="#86b886" stroke-width="2" stroke-dasharray="2,5" shape-rendering="crispEdges"/><clipPath id="cp1"><rect x="654" y="168" width="577" height="694"/></clipPath><g clip-path="url(#cp1)"><polyline points="681,411 696,411 712,407 727,407 741,407 755,406 772,406 792,177 806,458 821,490 836,503 850,492 870,453 883,459 898,449 913,490 928,473 941,483 957,395 970,409 987,388 1010,404 1037,402 1062,404 1081,397 1096,395 1123,412 1148,399 1176,397 1197,404 1201,412 1207,412 1211,407 1215,397 1218,394 1223,394 1226,394 1230,404" fill="none" stroke="#000" stroke-width="1"/><rect x="679" y="409" width="4" height="4" fill="#000" shape-rendering="crispEdges"/><rect x="694" y="409" width="4" height="4" fill="#000" shape-rendering="crispEdges"/><rect x="710" y="405" width="4" height="4" fill="#000" shape-rendering="crispEdges"/><rect x="725" y="405" width="4" height="4" fill="#000" shape-rendering="crispEdges"/><rect x="739" y="405" width="4" height="4" fill="#000" shape-rendering="crispEdges"/><rect x="753" y="404" width="4" height="4" fill="#000" shape-rendering="crispEdges"/><rect x="770" y="404" width="4" height="4" fill="#000" shape-rendering="crispEdges"/><rect x="790" y="175" width="4" height="4" fill="#000" shape-rendering="crispEdges"/><rect x="804" y="456" width="4" height="4" fill="#000" shape-rendering="crispEdges"/><rect x="819" y="488" width="4" height="4" fill="#000" shape-rendering="crispEdges"/><rect x="834" y="501" width="4" height="4" fill="#000" shape-rendering="crispEdges"/><rect x="848" y="490" width="4" height="4" fill="#000" shape-rendering="crispEdges"/><rect x="868" y="451" width="4" height="4" fill="#000" shape-rendering="crispEdges"/><rect x="881" y="457" width="4" height="4" fill="#000" shape-rendering="crispEdges"/><rect x="896" y="447" width="4" height="4" fill="#000" shape-rendering="crispEdges"/><rect x="911" y="488" width="4" height="4" fill="#000" shape-rendering="crispEdges"/><rect x="926" y="471" width="4" height="4" fill="#000" shape-rendering="crispEdges"/><rect x="939" y="481" width="4" height="4" fill="#000" shape-rendering="crispEdges"/><rect x="955" y="393" width="4" height="4" fill="#000" shape-rendering="crispEdges"/><rect x="968" y="407" width="4" height="4" fill="#000" shape-rendering="crispEdges"/><rect x="985" y="386" width="4" height="4" fill="#000" shape-rendering="crispEdges"/><rect x="1008" y="402" width="4" height="4" fill="#000" shape-rendering="crispEdges"/><rect x="1035" y="400" width="4" height="4" fill="#000" shape-rendering="crispEdges"/><rect x="1060" y="402" width="4" height="4" fill="#000" shape-rendering="crispEdges"/><rect x="1079" y="395" width="4" height="4" fill="#000" shape-rendering="crispEdges"/><rect x="1094" y="393" width="4" height="4" fill="#000" shape-rendering="crispEdges"/><rect x="1121" y="410" width="4" height="4" fill="#000" shape-rendering="crispEdges"/><rect x="1146" y="397" width="4" height="4" fill="#000" shape-rendering="crispEdges"/><rect x="1174" y="395" width="4" height="4" fill="#000" shape-rendering="crispEdges"/><rect x="1195" y="402" width="4" height="4" fill="#000" shape-rendering="crispEdges"/><rect x="1199" y="410" width="4" height="4" fill="#000" shape-rendering="crispEdges"/><rect x="1205" y="410" width="4" height="4" fill="#000" shape-rendering="crispEdges"/><rect x="1209" y="405" width="4" height="4" fill="#000" shape-rendering="crispEdges"/><rect x="1213" y="395" width="4" height="4" fill="#000" shape-rendering="crispEdges"/><rect x="1216" y="392" width="4" height="4" fill="#000" shape-rendering="crispEdges"/><rect x="1221" y="392" width="4" height="4" fill="#000" shape-rendering="crispEdges"/><rect x="1224" y="392" width="4" height="4" fill="#000" shape-rendering="crispEdges"/><rect x="1228" y="402" width="4" height="4" fill="#000" shape-rendering="crispEdges"/></g><line x1="1310.0" y1="379.0" x2="1400.0" y2="379.0" stroke="#86b886" stroke-width="2" stroke-dasharray="2,5" shape-rendering="crispEdges"/><polyline points="1327,356 1345,378" fill="none" stroke="#000" stroke-width="1"/><rect x="1325" y="354" width="4" height="4" fill="#000" shape-rendering="crispEdges"/><rect x="1343" y="376" width="4" height="4" fill="#000" shape-rendering="crispEdges"/><line x1="654.0" y1="810.0" x2="1231.0" y2="810.0" stroke="#86b886" stroke-width="2" stroke-dasharray="2,5" shape-rendering="crispEdges"/><g clip-path="url(#cp1)"><polyline points="671,847 685,848 700,846 715,848 730,845 745,848 761,846 780,847 795,525 810,736 827,707 842,710 857,761 870,667 885,624 902,745 916,793 931,824 946,845 960,840 975,846 990,840 1016,846 1043,844 1070,848 1087,846 1100,844 1129,849 1155,844 1180,845 1197,848 1201,849 1207,851 1211,846 1215,844 1218,844 1223,843 1226,844 1230,849" fill="none" stroke="#000" stroke-width="1"/><rect x="669" y="845" width="4" height="4" fill="#000" shape-rendering="crispEdges"/><rect x="683" y="846" width="4" height="4" fill="#000" shape-rendering="crispEdges"/><rect x="698" y="844" width="4" height="4" fill="#000" shape-rendering="crispEdges"/><rect x="713" y="846" width="4" height="4" fill="#000" shape-rendering="crispEdges"/><rect x="728" y="843" width="4" height="4" fill="#000" shape-rendering="crispEdges"/><rect x="743" y="846" width="4" height="4" fill="#000" shape-rendering="crispEdges"/><rect x="759" y="844" width="4" height="4" fill="#000" shape-rendering="crispEdges"/><rect x="778" y="845" width="4" height="4" fill="#000" shape-rendering="crispEdges"/><rect x="793" y="523" width="4" height="4" fill="#000" shape-rendering="crispEdges"/><rect x="808" y="734" width="4" height="4" fill="#000" shape-rendering="crispEdges"/><rect x="825" y="705" width="4" height="4" fill="#000" shape-rendering="crispEdges"/><rect x="840" y="708" width="4" height="4" fill="#000" shape-rendering="crispEdges"/><rect x="855" y="759" width="4" height="4" fill="#000" shape-rendering="crispEdges"/><rect x="868" y="665" width="4" height="4" fill="#000" shape-rendering="crispEdges"/><rect x="883" y="622" width="4" height="4" fill="#000" shape-rendering="crispEdges"/><rect x="900" y="743" width="4" height="4" fill="#000" shape-rendering="crispEdges"/><rect x="914" y="791" width="4" height="4" fill="#000" shape-rendering="crispEdges"/><rect x="929" y="822" width="4" height="4" fill="#000" shape-rendering="crispEdges"/><rect x="944" y="843" width="4" height="4" fill="#000" shape-rendering="crispEdges"/><rect x="958" y="838" width="4" height="4" fill="#000" shape-rendering="crispEdges"/><rect x="973" y="844" width="4" height="4" fill="#000" shape-rendering="crispEdges"/><rect x="988" y="838" width="4" height="4" fill="#000" shape-rendering="crispEdges"/><rect x="1014" y="844" width="4" height="4" fill="#000" shape-rendering="crispEdges"/><rect x="1041" y="842" width="4" height="4" fill="#000" shape-rendering="crispEdges"/><rect x="1068" y="846" width="4" height="4" fill="#000" shape-rendering="crispEdges"/><rect x="1085" y="844" width="4" height="4" fill="#000" shape-rendering="crispEdges"/><rect x="1098" y="842" width="4" height="4" fill="#000" shape-rendering="crispEdges"/><rect x="1127" y="847" width="4" height="4" fill="#000" shape-rendering="crispEdges"/><rect x="1153" y="842" width="4" height="4" fill="#000" shape-rendering="crispEdges"/><rect x="1178" y="843" width="4" height="4" fill="#000" shape-rendering="crispEdges"/><rect x="1195" y="846" width="4" height="4" fill="#000" shape-rendering="crispEdges"/><rect x="1199" y="847" width="4" height="4" fill="#000" shape-rendering="crispEdges"/><rect x="1205" y="849" width="4" height="4" fill="#000" shape-rendering="crispEdges"/><rect x="1209" y="844" width="4" height="4" fill="#000" shape-rendering="crispEdges"/><rect x="1213" y="842" width="4" height="4" fill="#000" shape-rendering="crispEdges"/><rect x="1216" y="842" width="4" height="4" fill="#000" shape-rendering="crispEdges"/><rect x="1221" y="841" width="4" height="4" fill="#000" shape-rendering="crispEdges"/><rect x="1224" y="842" width="4" height="4" fill="#000" shape-rendering="crispEdges"/><rect x="1228" y="847" width="4" height="4" fill="#000" shape-rendering="crispEdges"/></g></g></svg>
</div>
</div>
<div style="position:absolute;left:572.00px;top:0.00px;width:1.00px;height:889.00px;background:#939393"></div>
<div style="position:absolute;left:572.00px;top:0.00px;width:766.00px;height:1.00px;background:#a0a0a0"></div>
<div style="position:absolute;left:572.00px;top:887.00px;width:766.00px;height:2.00px;background:#8f8f8f"></div>
<div style="position:absolute;left:0.00px;top:888.00px;width:572.00px;height:1.00px;background:#fbfbfb"></div>
</body></html>
